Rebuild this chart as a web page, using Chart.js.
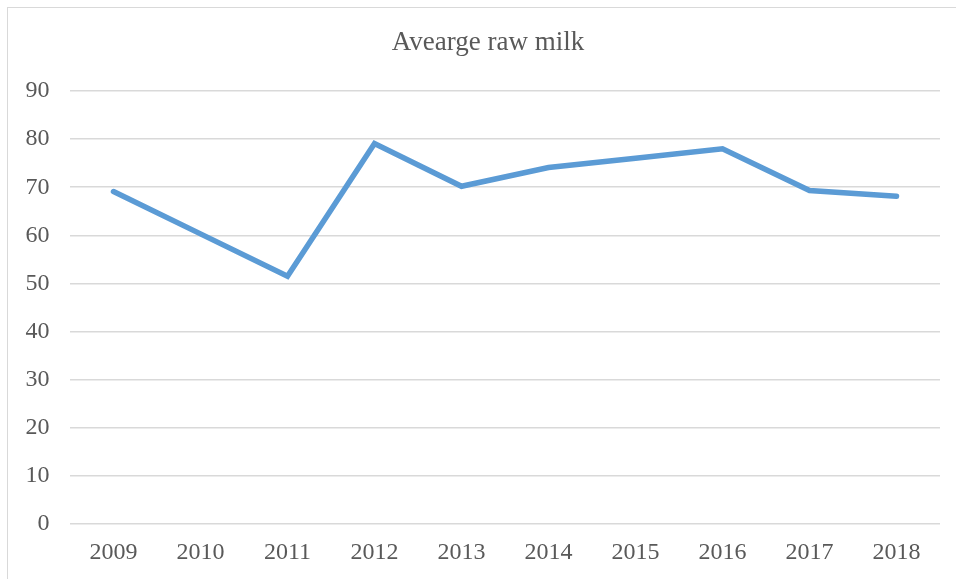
<!DOCTYPE html>
<html>
<head>
<meta charset="utf-8">
<script src="https://cdn.jsdelivr.net/npm/chart.js@4/dist/chart.umd.min.js"></script>
<style>
  html, body { margin: 0; padding: 0; background: #fff; }
  #wrap { position: relative; width: 956px; height: 579px; }
</style>
</head>
<body>
<div id="wrap"><canvas id="c" width="956" height="579"></canvas></div>
<script>
const title = "Avearge raw milk";
const years = ["2009", "2010", "2011", "2012", "2013", "2014", "2015", "2016", "2017", "2018"];
const milk = [69.1, 60.3, 51.5, 79.1, 70.2, 74.1, 76, 78, 69.3, 68.1];
const yMin = 0, yMax = 90, yStep = 10;

const framePlugin = {
  id: 'frame',
  beforeDraw(chart) {
    const ctx = chart.ctx;
    ctx.save();
    ctx.fillStyle = '#ffffff';
    ctx.fillRect(0, 0, chart.width, chart.height);
    ctx.strokeStyle = '#d9d9d9';
    ctx.lineWidth = 1;
    ctx.strokeRect(7.5, 7.5, 1000, 1000);
    ctx.restore();
  },
  afterDraw(chart) {
    // chart title, centred on the chart frame (which extends past the right edge)
    const ctx = chart.ctx;
    const tb = chart.titleBlock;
    ctx.save();
    ctx.fillStyle = '#595959';
    ctx.font = '27px "Liberation Serif"';
    ctx.textAlign = 'center';
    ctx.textBaseline = 'middle';
    const cy = tb.top + 27 + 27 * 1.2 / 2;
    ctx.fillText(title, 488, cy);
    ctx.restore();
  }
};

new Chart(document.getElementById('c'), {
  type: 'line',
  data: {
    labels: years,
    datasets: [{
      label: title,
      data: milk,
      borderColor: '#5B9BD5',
      backgroundColor: '#5B9BD5',
      borderWidth: 5.5,
      pointRadius: 0,
      tension: 0,
      borderCapStyle: 'round',
      borderJoinStyle: 'miter'
    }]
  },
  options: {
    responsive: false,
    animation: false,
    devicePixelRatio: 1,
    layout: { padding: { left: 0, right: 16, top: 0, bottom: 0 } },
    plugins: {
      legend: { display: false },
      tooltip: { enabled: false },
      title: {
        display: true,
        text: title,
        color: 'rgba(0,0,0,0)',
        font: { family: 'Liberation Serif', size: 27, weight: 'normal', lineHeight: 1.2 },
        padding: { top: 27, bottom: 31.6 }
      }
    },
    scales: {
      x: {
        offset: true,
        grid: { display: false, drawTicks: false },
        border: { display: false },
        ticks: {
          color: '#595959',
          font: { family: 'Liberation Serif', size: 24 },
          padding: 14,
          maxRotation: 0,
          autoSkip: false
        },
        afterFit(scale) { scale.height = 55; }
      },
      y: {
        min: yMin,
        max: yMax,
        grid: { color: '#d9d9d9', lineWidth: 1.5, drawTicks: false },
        border: { display: false },
        ticks: {
          stepSize: yStep,
          color: '#595959',
          font: { family: 'Liberation Serif', size: 24 },
          padding: 20.5
        },
        afterFit(scale) { scale.width = 70; }
      }
    }
  },
  plugins: [framePlugin]
});
</script>
</body>
</html>
